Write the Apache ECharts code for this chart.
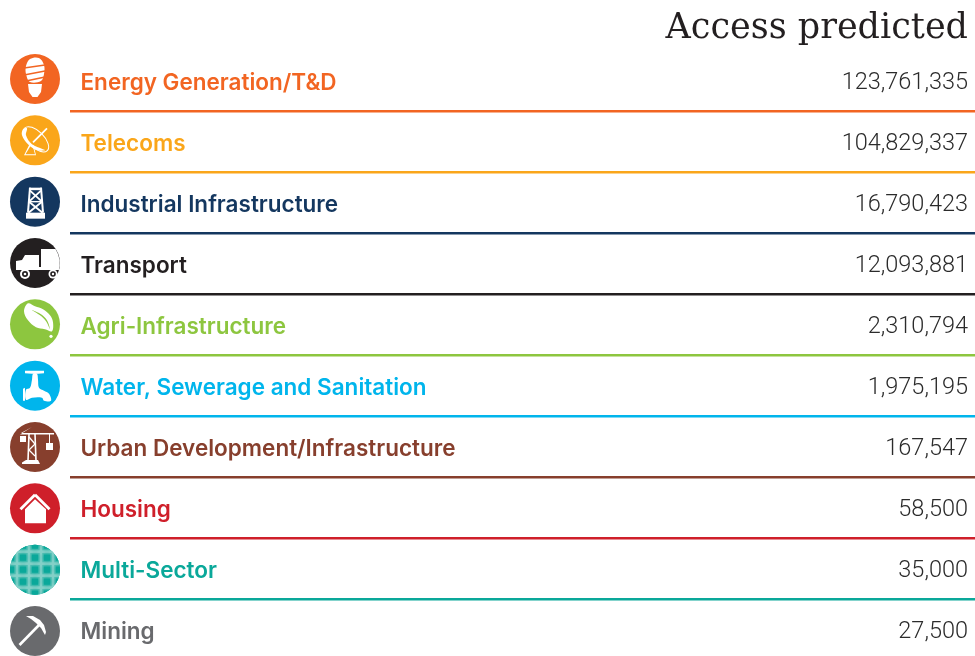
<!DOCTYPE html>
<html>
<head>
<meta charset="utf-8">
<script src="https://cdn.jsdelivr.net/npm/echarts@6/dist/echarts.min.js"></script>
<style>
  html, body { margin: 0; padding: 0; background: #fff; }
  #chart { width: 975px; height: 656px; }
</style>
</head>
<body>
<div id="chart"></div>
<script>
const sectors = ['Energy Generation/T&D', 'Telecoms', 'Industrial Infrastructure', 'Transport', 'Agri-Infrastructure',
  'Water, Sewerage and Sanitation', 'Urban Development/Infrastructure', 'Housing', 'Multi-Sector', 'Mining'];
const accessPredicted = [123761335, 104829337, 16790423, 12093881, 2310794, 1975195, 167547, 58500, 35000, 27500];
const sectorColors = ['#f26522', '#faa61a', '#14375f', '#231f20', '#8dc63f', '#00b5ec', '#873f2d', '#cf1f2a', '#0aa89a', '#696a6d'];

// small icon helpers, coords are px from the centre of the circle
const poly = (points, fill) => ({ type: 'polygon', shape: { points }, style: { fill } });
const smooth = (points, fill) => ({ type: 'polygon', shape: { points, smooth: 0.35 }, style: { fill } });
const bar = (x1, y1, x2, y2, w, stroke) => ({ type: 'line', shape: { x1, y1, x2, y2 }, style: { stroke, lineWidth: w, fill: null } });
const dot = (cx, cy, r, fill) => ({ type: 'circle', shape: { cx, cy, r }, style: { fill } });
const W = '#fff';

const icons = [
  // bulb
  c => [
    smooth([[-9, -13], [-5, -20], [4, -21], [9, -14], [9, -5], [6, 2], [-5, 3], [-9, -5]], W),
    bar(-11, -11, 10, -14, 1.6, c), bar(-11, -4, 10, -8, 1.6, c), bar(-9, 2, 10, -2, 1.6, c),
    poly([[-7, 5], [7, 5], [6, 13], [2.5, 18], [-2.5, 18], [-6, 13]], W)
  ],
  // dish
  c => [
    { type: 'ellipse', shape: { cx: 0, cy: 0, rx: 16, ry: 8 }, x: 1, y: -1, rotation: -Math.PI / 4, style: { fill: null, stroke: W, lineWidth: 1 } },
    smooth([[-12, -11], [-8, -12], [-9, -5], [-3, 4], [8, 9], [10, 10], [2, 10], [-7, 4], [-13, -5]], W),
    bar(-2, 2, 12, -12, 1.8, W),
    poly([[-11, 15], [-5, 3], [-3.5, 4], [-9.5, 14], [0, 14], [-2.5, 5], [-1.5, 5], [1, 15]], W)
  ],
  // tower
  c => [
    poly([[-9, 11], [10, 11], [10, 17], [-9, 17]], W),
    poly([[-5.5, -14], [6.5, -14], [6.5, -11.5], [-5.5, -11.5]], W),
    bar(-5, -14, -7, 11, 2, W), bar(6, -14, 8, 11, 2, W),
    bar(-5, -11, 7, 0, 1.9, W), bar(6, -11, -6, 0, 1.9, W),
    bar(-6, 0, 7.5, 11, 1.9, W), bar(7, 0, -6.5, 11, 1.9, W),
    bar(-6, 0, 7, 0, 1.4, W)
  ],
  // truck
  c => [
    poly([[6, -14], [20.5, -14], [23, -9], [24.7, -3], [24.7, 3], [23.9, 7], [6, 7]], W),
    poly([[-10, -8], [4, -8], [4, 4], [6, 4], [6, 7], [-19, 7], [-19, -2], [-13, -3]], W),
    dot(-10, 11, 5, W), dot(-10, 11, 3, c), dot(-10, 11, 1.3, W),
    dot(18, 11, 4.5, W), dot(18, 11, 2.8, c), dot(18, 11, 1.2, W)
  ],
  // leaf
  c => [
    smooth([[-7, -21], [-11, -13], [-7, -4], [1, 3], [10, 5], [17, 7], [18, -2], [15, -9], [8, -15], [0, -18]], W),
    smooth([[-3, -14], [6, -10], [12, -4], [15, 5], [11, -3], [5, -9]], c),
    dot(16, 12, 1.6, W)
  ],
  // tap
  c => [
    poly([[-10, -15], [9, -15], [9, -12.5], [3, -12], [-3, -12], [-10, -12.5]], W),
    smooth([[-2, -12], [2, -12], [3, -6], [4, 2], [9, 5], [14, 8], [16, 15], [9, 15], [7, 12], [-3, 12], [-9, 14], [-9, 4], [-5, 2], [-3, -6]], W),
    poly([[-12, 3], [-10, 2], [-10, 15], [-12, 15]], W)
  ],
  // crane
  c => [
    poly([[-3, -20], [-14, -14], [19, -14], [19, -12.5], [-15, -12.5]], W),
    poly([[-15, -11], [-9, -11], [-9, -5], [-15, -5]], W),
    bar(14.5, -13, 14.5, -3, 1, W),
    poly([[11, -4], [18, -4], [18, 3], [11, 3]], W),
    bar(-6, -13, -7, 14, 1.6, W), bar(0, -13, 1, 14, 1.6, W),
    bar(-6, -10, 0, -3, 1.3, W), bar(0, -3, -6, 3, 1.3, W), bar(-6, 3, 0, 9, 1.3, W),
    poly([[-9, 13], [3, 13], [5, 17], [-13, 17], [-13, 15.5]], W)
  ],
  // house
  c => [
    bar(-14.5, 1, 0, -13.5, 2.8, W), bar(0, -13.5, 14.5, 1, 2.8, W),
    poly([[0, -9], [11, 1], [11, 15], [-10, 15], [-10, 1]], W)
  ],
  // multi-sector: soft squares on a light grid, clipped to the circle
  c => {
    const out = [dot(0, 0, 25, '#58c0b5')];
    [-18, -6, 6, 18].forEach(o => {
      out.push(bar(-25, o, 25, o, 2.6, '#8dd3cb'));
      out.push(bar(o, -25, o, 25, 2.6, '#8dd3cb'));
    });
    [-24, -12, 0, 12, 24].forEach(x => {
      [-24, -12, 0, 12, 24].forEach(y => {
        out.push({ type: 'rect', shape: { x: x - 3.2, y: y - 3.2, width: 6.4, height: 6.4 }, style: { fill: c, shadowBlur: 4, shadowColor: c } });
      });
    });
    return [{ type: 'group', clipPath: { type: 'circle', shape: { cx: 0, cy: 0, r: 25 } }, children: out }];
  },
  // pickaxe
  c => [
    bar(-15.5, 14, 6, -8, 2.6, W),
    poly([[-9, -15], [-2, -15], [5, -11], [9, -6], [11, 1], [10, 4], [6, -3], [1, -8], [-4, -12]], W)
  ]
];

const chart = echarts.init(document.getElementById('chart'), null, { renderer: 'canvas' });

chart.setOption({
  animation: false,
  backgroundColor: '#fff',
  title: {
    text: 'Access predicted',
    right: 7,
    top: 11,
    padding: 0,
    textStyle: { fontFamily: 'DejaVu Serif', fontWeight: 'normal', fontSize: 35, color: '#231f20' }
  },
  grid: { left: 0, right: 0, top: 82, height: 549 },
  xAxis: { type: 'value', min: 0, max: 975, show: false },
  yAxis: { type: 'category', inverse: true, boundaryGap: false, data: sectors, show: false },
  series: [{
    type: 'custom',
    silent: true,
    encode: { x: 0, y: 1 },
    data: accessPredicted.map((v, i) => [v, i]),
    renderItem: (params, api) => {
      const i = api.value(1);
      const y = api.coord([0, i])[1];
      const c = sectorColors[i];
      const children = [
        // icon column drifts a bit against the rows in the original
        { type: 'group', x: 35, y: y - 3 + i / 3, children: [dot(0, 0, 25, c)].concat(icons[i](c)) },
        { type: 'text', style: { text: sectors[i], x: 80.5, y: y + 1, fill: c, font: '600 22.5px Inter', textAlign: 'left', textVerticalAlign: 'middle' } },
        { type: 'text', style: { text: accessPredicted[i].toLocaleString('en-US'), x: 968, y: y + 1, fill: '#2b2b2b', font: '300 23.5px Roboto', textAlign: 'right', textVerticalAlign: 'middle' } }
      ];
      if (i < sectors.length - 1) {
        children.push({ type: 'line', shape: { x1: 70, y1: y + 29.2, x2: 975, y2: y + 29.2 }, style: { stroke: c, lineWidth: 2.5 } });
      }
      return { type: 'group', children };
    }
  }]
});
</script>
</body>
</html>
